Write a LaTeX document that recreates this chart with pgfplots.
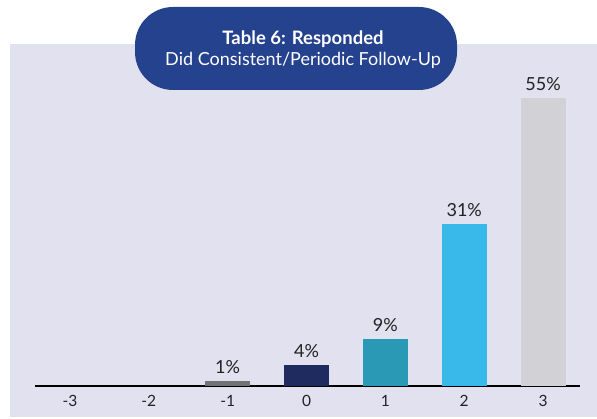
\documentclass[border=0pt]{standalone}
\usepackage{fontspec}
\setmainfont{Lato}
\usepackage{pgfplots}
\pgfplotsset{compat=1.18}
\definecolor{lav}{HTML}{E2E1F0}
\definecolor{titlebox}{HTML}{25428F}
\definecolor{cA}{HTML}{737373}
\definecolor{cB}{HTML}{1F2B5E}
\definecolor{cC}{HTML}{2A99B5}
\definecolor{cD}{HTML}{38B9EA}
\definecolor{cE}{HTML}{D2D2D6}
\definecolor{txt}{HTML}{222222}
\begin{document}
\begin{tikzpicture}[x=1pt,y=1pt]
\path[use as bounding box] (0,0) rectangle (597,418);
\fill[lav] (10,1) rectangle (597,374);
\begin{axis}[
  at={(35pt,32pt)}, anchor=south west,
  scale only axis, width=545pt, height=314.2pt,
  xmin=-3.443, xmax=3.468, ymin=0, ymax=60,
  axis x line=bottom, axis y line=none,
  x axis line style={-, line width=1.3pt, black},
  xtick={-3,-2,-1,0,1,2,3},
  major tick length=0pt,
  ytick=\empty,
  /pgf/number format/assume math mode=true,
  xticklabel style={font=\fontsize{15.5}{17}\selectfont, text=txt, yshift=-6pt},
  ybar, bar width=45pt, bar shift=0pt,
  clip=false,
  nodes near coords={\pgfmathprintnumber{\pgfplotspointmeta}\%},
  nodes near coords style={font=\fontsize{18}{20}\selectfont, text=txt, inner sep=0pt, anchor=south, yshift=7pt},
  every axis plot/.append style={draw=none},
]
\addplot[fill=cA] coordinates {(-1,1)};
\addplot[fill=cB] coordinates {(0,4)};
\addplot[fill=cC] coordinates {(1,9)};
\addplot[fill=cD] coordinates {(2,31)};
\addplot[fill=cE] coordinates {(3,55)};
\end{axis}
\fill[titlebox, rounded corners=38pt] (135,328) rectangle (457,411);
\node[text=white, font=\fontsize{18.5}{20}\selectfont\bfseries, anchor=base] at (303,373) {Table 6: Responded};
\node[text=white, font=\fontsize{18}{20}\selectfont, anchor=base] at (303,352) {Did Consistent/Periodic Follow-Up};
\end{tikzpicture}
\end{document}
